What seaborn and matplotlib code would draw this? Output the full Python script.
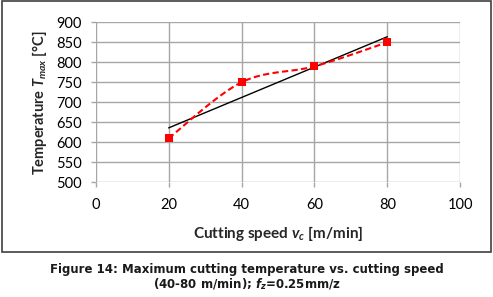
import numpy as np
import pandas as pd
import matplotlib
matplotlib.use("Agg")
import matplotlib.pyplot as plt
import seaborn as sns
from matplotlib.patches import Rectangle

# Data
speed = [20, 40, 60, 80]
temperature = [610, 750, 790, 850]
x_ticks = [0, 20, 40, 60, 80, 100]
y_ticks = [500, 550, 600, 650, 700, 750, 800, 850, 900]

sns.set_theme(style="white")
plt.rcParams['font.family'] = ['Lato', 'DejaVu Sans']
plt.rcParams['mathtext.fontset'] = 'custom'
plt.rcParams['mathtext.rm'] = 'Lato:bold'
plt.rcParams['mathtext.it'] = 'Lato:italic:bold'
plt.rcParams['mathtext.bf'] = 'Lato:bold'
plt.rcParams['mathtext.bfit'] = 'DejaVu Sans:italic:bold'


def excel_smooth(xs, ys, n=30):
    p = np.column_stack([xs, ys]).astype(float)
    m = len(p)
    out = []
    for i in range(m - 1):
        p0 = p[i]
        p3 = p[i + 1]
        pm = p[i - 1] if i > 0 else p[i]
        pn = p[i + 2] if i + 2 < m else p[i + 1]
        c1 = p0 + (p3 - pm) / 6.0
        c2 = p3 - (pn - p0) / 6.0
        t = np.linspace(0, 1, n)[:, None]
        seg = ((1 - t) ** 3) * p0 + 3 * ((1 - t) ** 2) * t * c1 + 3 * (1 - t) * t ** 2 * c2 + t ** 3 * p3
        out.append(seg if i == 0 else seg[1:])
    return np.vstack(out)


W, H = 493, 297
fig = plt.figure(figsize=(W / 100, H / 100), dpi=100)
ax = fig.add_axes([95.7 / W, 1 - 182.3 / H, (460.3 - 95.7) / W, (182.3 - 22.3) / H])

df = pd.DataFrame({"speed": speed, "temperature": temperature})
curve = excel_smooth(speed, temperature)
cdf = pd.DataFrame({"x": curve[:, 0], "y": curve[:, 1]})

sns.regplot(data=df, x="speed", y="temperature", scatter=False, ci=None,
            color="black", line_kws={"lw": 1.0}, ax=ax)
sns.lineplot(data=cdf, x="x", y="y", sort=False, color="#ff0000",
             lw=1.5, linestyle=(0, (3, 1.6)), ax=ax)
sns.scatterplot(data=df, x="speed", y="temperature", marker="s", s=28,
                color="#ff0000", edgecolor="#ff0000", linewidth=0, ax=ax, zorder=5)

ax.set_xlim(0, 100)
ax.set_ylim(500, 900)
ax.set_xticks(x_ticks)
ax.set_yticks(y_ticks)
ax.grid(True, color="#a6a6a6", lw=1.0)
ax.set_axisbelow(True)
for s in ax.spines.values():
    s.set_visible(False)
ax.tick_params(axis='both', which='both', length=3.8, width=1, color="#a6a6a6",
               labelsize=10.5, labelcolor="#000000",
               bottom=True, left=True)
ax.tick_params(axis='x', pad=7.5)
ax.tick_params(axis='y', pad=6)

ax.set_xlabel(r"Cutting speed $v_c$ [m/min]", fontsize=11, fontweight="bold", labelpad=9)
ax.set_ylabel(r"Temperature $T_{max}$ [°C]", fontsize=10.5, fontweight="bold", labelpad=5)

fig.patches.append(Rectangle((2 / W, 1 - 251.5 / H), 488.5 / W, 250 / H,
                             transform=fig.transFigure, fill=False,
                             edgecolor="#404040", lw=1.2))

fig.text(247 / W, 1 - 270 / H, "Figure 14: Maximum cutting temperature vs. cutting speed",
         ha="center", va="center", fontsize=8.5, fontweight="bold",
         family="DejaVu Sans", color="#1a1a1a")
fig.text(247 / W, 1 - 284 / H, r"(40-80 m/min); $\mathbfit{f}_{\mathbfit{z}}$=0.25mm/z",
         ha="center", va="center", fontsize=8.5, fontweight="bold",
         family="DejaVu Sans", color="#1a1a1a")

fig.savefig("out.png", dpi=100)
